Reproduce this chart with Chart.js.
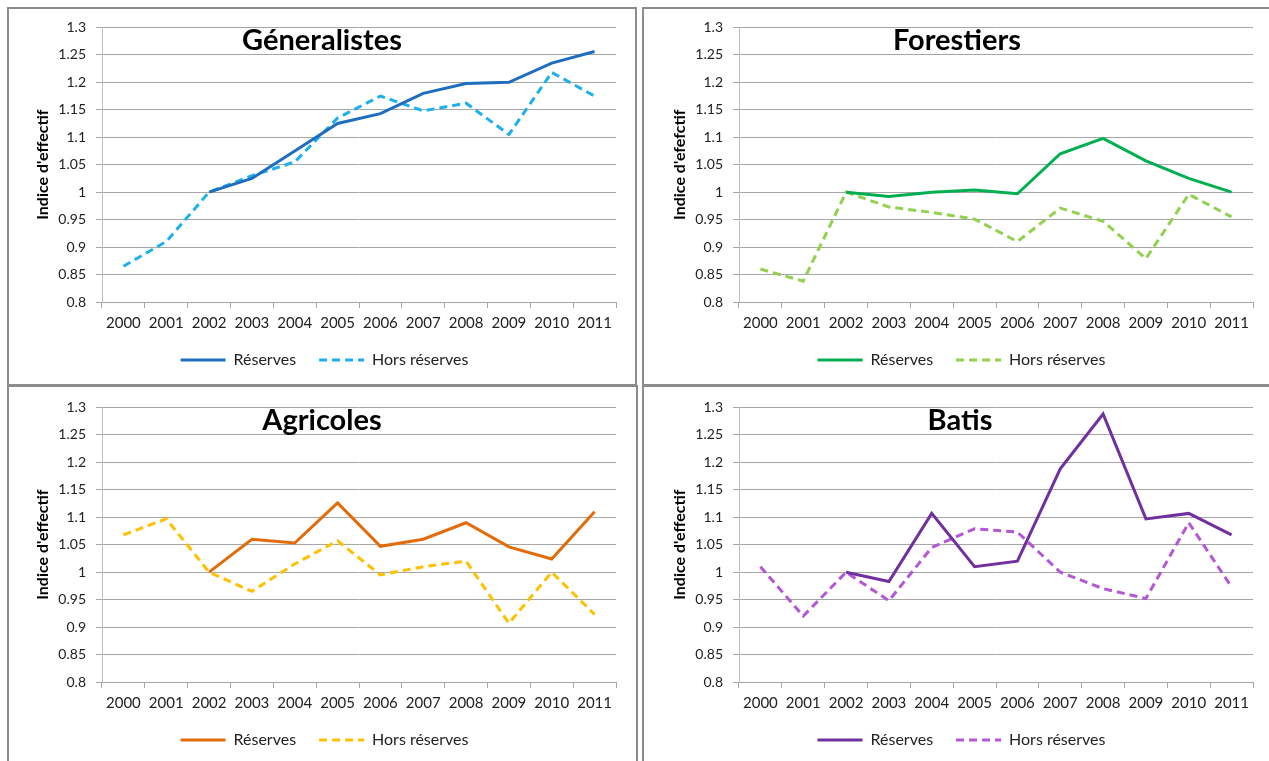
<!DOCTYPE html>
<html>
<head>
<meta charset="utf-8">
<script src="https://cdn.jsdelivr.net/npm/chart.js@4.4.1/dist/chart.umd.min.js"></script>
<style>
  html, body { margin: 0; padding: 0; background: #fff; overflow: hidden; }
  body { width: 1269px; height: 761px; position: relative; font-family: Lato, "Open Sans", sans-serif; }
  .panel { position: absolute; border: 2px solid #8c8c8c; box-sizing: border-box; }
  .wrap { position: absolute; width: 626px; height: 375px; }
  .ttl { position: absolute; width: 630px; text-align: center; font: bold 29px Lato, sans-serif; line-height: 34px; color: #000; }
</style>
</head>
<body>
<div class="panel" style="left:7px;top:7px;width:630px;height:379px"></div>
<div class="panel" style="left:642px;top:7px;width:640px;height:379px"></div>
<div class="panel" style="left:7px;top:385px;width:631px;height:400px"></div>
<div class="panel" style="left:642px;top:385px;width:640px;height:400px"></div>

<div class="wrap" style="left:9px;top:9px"><canvas id="c1"></canvas></div>
<div class="wrap" style="left:646px;top:9px"><canvas id="c2"></canvas></div>
<div class="wrap" style="left:9px;top:389px"><canvas id="c3"></canvas></div>
<div class="wrap" style="left:646px;top:389px"><canvas id="c4"></canvas></div>

<div class="ttl" style="left:7px;top:22px">Géneralistes</div>
<div class="ttl" style="left:642px;top:22px">Forestiers</div>
<div class="ttl" style="left:7px;top:402px">Agricoles</div>
<div class="ttl" style="left:645px;top:402px">Batis</div>

<script>
const years = ['2000', '2001', '2002', '2003', '2004', '2005', '2006', '2007', '2008', '2009', '2010', '2011'];
const seriesNames = ['Réserves', 'Hors réserves'];

const generalistesReserves = [null, null, 1.0, 1.025, 1.075, 1.125, 1.143, 1.18, 1.198, 1.2, 1.235, 1.256];
const generalistesHors = [0.865, 0.91, 1.0, 1.03, 1.055, 1.135, 1.175, 1.148, 1.162, 1.105, 1.218, 1.175];

const forestiersReserves = [null, null, 1.0, 0.992, 1.0, 1.004, 0.997, 1.07, 1.098, 1.057, 1.025, 1.0];
const forestiersHors = [0.86, 0.838, 1.0, 0.973, 0.963, 0.951, 0.91, 0.971, 0.947, 0.879, 0.996, 0.955];

const agricolesReserves = [null, null, 1.0, 1.06, 1.053, 1.126, 1.047, 1.06, 1.09, 1.046, 1.024, 1.11];
const agricolesHors = [1.068, 1.097, 1.0, 0.965, 1.015, 1.057, 0.995, 1.01, 1.02, 0.907, 1.0, 0.923];

const batisReserves = [null, null, 1.0, 0.983, 1.107, 1.01, 1.02, 1.188, 1.288, 1.097, 1.107, 1.068];
const batisHors = [1.01, 0.92, 1.0, 0.948, 1.045, 1.079, 1.073, 1.0, 0.97, 0.952, 1.09, 0.973];

const yMin = 0.8, yMax = 1.3, yStep = 0.05;

// legend as short line samples, keeping the dataset dash
function lineLabels(chart) {
    return chart.data.datasets.map((ds, i) => ({
        text: ds.label,
        strokeStyle: ds.borderColor,
        fillStyle: ds.borderColor,
        fontColor: '#222',
        lineWidth: ds.borderWidth,
        lineDash: ds.borderDash || [],
        lineCap: 'butt',
        pointStyle: 'line',
        hidden: false,
        datasetIndex: i
    }));
}

function makeChart(id, reserves, hors, colReserves, colHors, yTitle) {
    const ctx = document.getElementById(id).getContext('2d');
    return new Chart(ctx, {
        type: 'line',
        data: {
            labels: years,
            datasets: [{
                label: seriesNames[0],
                data: reserves,
                borderColor: colReserves,
                backgroundColor: colReserves,
                borderWidth: 3,
                pointRadius: 0,
                tension: 0,
                fill: false
            }, {
                label: seriesNames[1],
                data: hors,
                borderColor: colHors,
                backgroundColor: colHors,
                borderWidth: 3,
                borderDash: [8, 5],
                pointRadius: 0,
                tension: 0,
                fill: false
            }]
        },
        options: {
            responsive: true,
            maintainAspectRatio: false,
            animation: false,
            layout: { padding: { left: 24, right: 19, top: 17, bottom: 6 } },
            plugins: {
                legend: {
                    display: true,
                    position: 'bottom',
                    labels: {
                        usePointStyle: true,
                        pointStyle: 'line',
                        pointStyleWidth: 45,
                        boxHeight: 12,
                        padding: 23,
                        color: '#222',
                        font: { family: 'Lato', size: 16 },
                        generateLabels: lineLabels
                    }
                },
                tooltip: { enabled: false }
            },
            scales: {
                x: {
                    offset: true,
                    grid: {
                        offset: true,
                        drawOnChartArea: false,
                        drawTicks: true,
                        tickLength: 6,
                        color: '#a6a6a6'
                    },
                    border: { color: '#a6a6a6' },
                    ticks: {
                        color: '#222',
                        padding: 6,
                        maxRotation: 0,
                        autoSkip: false,
                        font: { family: 'Lato', size: 15 }
                    },
                    afterFit: function(scale) { scale.height = 27; }
                },
                y: {
                    min: yMin,
                    max: yMax,
                    ticks: {
                        stepSize: yStep,
                        color: '#222',
                        padding: 10,
                        font: { family: 'Lato', size: 14 },
                        callback: function(v) { return String(+v.toFixed(2)); }
                    },
                    grid: {
                        color: '#a6a6a6',
                        tickLength: 6
                    },
                    border: { color: '#bdbdbd' },
                    title: {
                        display: true,
                        text: yTitle,
                        color: '#000',
                        padding: { top: 0, bottom: 0 },
                        font: { family: 'Lato', size: 16, weight: 'bold' }
                    },
                    afterFit: function(scale) { scale.width = 69; }
                }
            }
        }
    });
}

makeChart('c1', generalistesReserves, generalistesHors, '#1f6dbf', '#1cb0ee', "Indice d'effectif");
makeChart('c2', forestiersReserves, forestiersHors, '#00af50', '#92d050', "Indice d'efefctif");
makeChart('c3', agricolesReserves, agricolesHors, '#e36c0a', '#ffc000', "Indice d'effectif");
makeChart('c4', batisReserves, batisHors, '#7030a0', '#b556d6', "Indice d'effectif");
</script>
</body>
</html>
